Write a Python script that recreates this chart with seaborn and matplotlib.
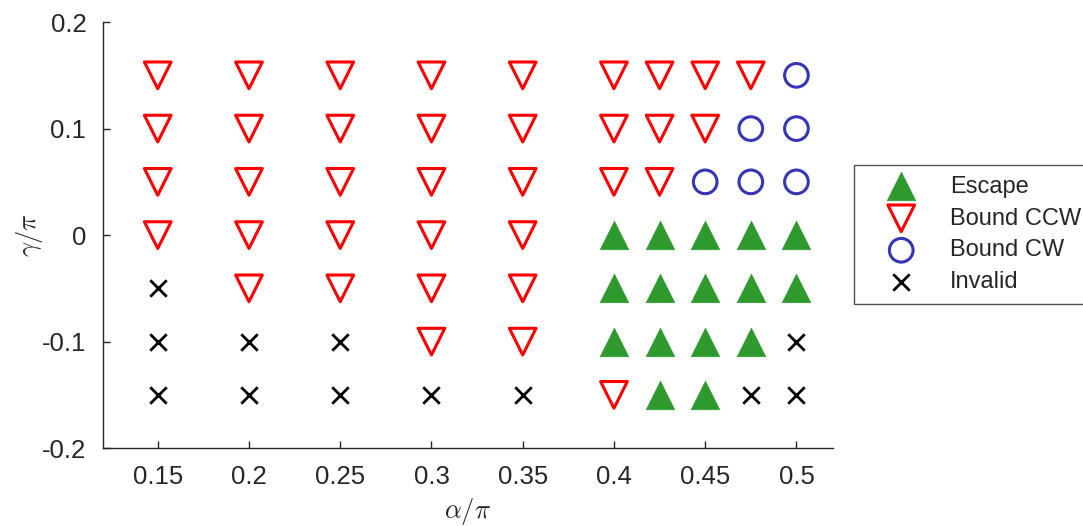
import matplotlib
matplotlib.use("Agg")
import matplotlib.pyplot as plt
import seaborn as sns
import pandas as pd

# Parameter grid (alpha/pi, gamma/pi) and the outcome for each run
alpha = [0.15, 0.2, 0.25, 0.3, 0.35, 0.4, 0.425, 0.45, 0.475, 0.5]
gamma = [0.15, 0.1, 0.05, 0.0, -0.05, -0.1, -0.15]

# outcome per alpha column, listed top (gamma=0.15) to bottom (gamma=-0.15)
# E = escape, B = bound CCW, C = bound CW, X = invalid
outcome = {
    0.15:  ["B", "B", "B", "B", "X", "X", "X"],
    0.2:   ["B", "B", "B", "B", "B", "X", "X"],
    0.25:  ["B", "B", "B", "B", "B", "X", "X"],
    0.3:   ["B", "B", "B", "B", "B", "B", "X"],
    0.35:  ["B", "B", "B", "B", "B", "B", "X"],
    0.4:   ["B", "B", "B", "E", "E", "E", "B"],
    0.425: ["B", "B", "B", "E", "E", "E", "E"],
    0.45:  ["B", "B", "C", "E", "E", "E", "E"],
    0.475: ["B", "C", "C", "E", "E", "E", "X"],
    0.5:   ["C", "C", "C", "E", "E", "X", "X"],
}

x_ticks = [0.15, 0.2, 0.25, 0.3, 0.35, 0.4, 0.45, 0.5]
x_tick_labels = ["0.15", "0.2", "0.25", "0.3", "0.35", "0.4", "0.45", "0.5"]
y_ticks = [-0.2, -0.1, 0.0, 0.1, 0.2]
y_tick_labels = ["-0.2", "-0.1", "0", "0.1", "0.2"]

rows = []
for a in alpha:
    for g, o in zip(gamma, outcome[a]):
        rows.append({"alpha": a, "gamma": g, "outcome": o})
df = pd.DataFrame(rows)

sns.set_theme(style="white")
plt.rcParams["font.family"] = ["Liberation Sans", "DejaVu Sans"]
plt.rcParams["mathtext.fontset"] = "cm"

fig = plt.figure(figsize=(10.83, 5.26), dpi=100)
ax = fig.add_axes([0.0951, 0.148, 0.674, 0.810])

green = "#2e9a2e"
blue = "#3535b5"

esc = df[df.outcome == "E"]
sns.scatterplot(data=esc, x="alpha", y="gamma", ax=ax, marker="^", s=420,
                color=green, edgecolor=green, linewidth=0.5, label="Escape")
ccw = df[df.outcome == "B"]
sns.scatterplot(data=ccw, x="alpha", y="gamma", ax=ax, marker="v", s=370,
                facecolor="none", edgecolor="red", linewidth=2.2, label="Bound CCW")
cw = df[df.outcome == "C"]
sns.scatterplot(data=cw, x="alpha", y="gamma", ax=ax, marker="o", s=290,
                facecolor="none", edgecolor=blue, linewidth=2.2, label="Bound CW")
inv = df[df.outcome == "X"]
sns.scatterplot(data=inv, x="alpha", y="gamma", ax=ax, marker="x", s=140,
                color="black", linewidth=2.0, label="Invalid")

ax.set_xlim(0.12, 0.52)
ax.set_ylim(-0.2, 0.2)
ax.set_xticks(x_ticks)
ax.set_xticklabels(x_tick_labels)
ax.set_yticks(y_ticks)
ax.set_yticklabels(y_tick_labels)

for s in ["top", "right"]:
    ax.spines[s].set_visible(False)
for s in ["left", "bottom"]:
    ax.spines[s].set_color("#262626")
    ax.spines[s].set_linewidth(1.0)
ax.tick_params(direction="in", length=5, width=1.0, color="#262626",
               labelcolor="#262626", labelsize=18.5, pad=12,
               left=True, bottom=True)

ax.set_xlabel(r"$\alpha/\pi$", fontsize=19, labelpad=5)
ax.set_ylabel(r"$\gamma/\pi$", fontsize=19, labelpad=-2)

leg = ax.legend(loc="upper left", bbox_to_anchor=(854 / 1083, 1 - 165 / 526),
                bbox_transform=fig.transFigure, fontsize=17, frameon=True,
                fancybox=False, edgecolor="#262626", borderpad=0.45,
                labelspacing=0.42, handlelength=3.1, handletextpad=0.5,
                borderaxespad=0)
leg.get_frame().set_linewidth(1.0)

fig.savefig("out.png", dpi=100)
